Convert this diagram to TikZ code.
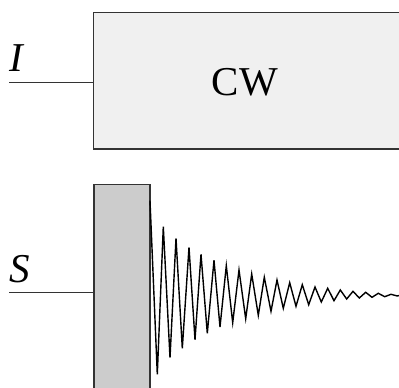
\documentclass[tikz,border=0pt]{standalone}
\usepackage{fontspec}
\setmainfont{Liberation Serif}
\begin{document}
\begin{tikzpicture}[x=1pt,y=-1pt,
  edge/.style={draw=black!80, line width=1.5pt},
  cwbox/.style={edge, fill=black!6, inner sep=0pt, outer sep=0pt, anchor=north west},
  blkbox/.style={edge, fill=black!20, inner sep=0pt, outer sep=0pt, anchor=north west},
  lbl/.style={inner sep=0pt, font=\fontsize{41}{48}\selectfont},
  wave/.style={draw=black, line width=1.4pt, line join=miter}]
\useasboundingbox (0,0) rectangle (399,388);
\clip (0,0) rectangle (399,388);
% top block
\node[cwbox, minimum width=320pt, minimum height=136.7pt] (cw) at (93.3,12.3) {};
\node[lbl] (cwtext) at (245,82.5) {CW};
\coordinate (iin) at (9.3,82.7);
\draw[edge] (iin) -- (iin -| cw.west);
\node[lbl, anchor=base west] (ilab) at (9,71) {\textit{I}};
% bottom block
\node[blkbox, minimum width=56pt, minimum height=220pt] (blk) at (94,184.7) {};
\coordinate (sin) at (9.3,292.7);
\draw[edge] (sin) -- (sin -| blk.west);
\node[lbl, anchor=base west] (slab) at (9,282) {\textit{S}};
% decaying oscillation
\coordinate (w0) at (blk.east |- 0,200.7);
\draw[wave] (w0)
 -- (157.3,374.3) -- (163.3,226.7) -- (170,357.7) -- (176,238.3)
 -- (182.3,348.3) -- (189,247.3) -- (195,339.7) -- (201,254.3)
 -- (207.3,333.3) -- (214,260.3) -- (220,327) -- (226.3,265.7)
 -- (232.7,322.7) -- (239,270) -- (245.7,318.7) -- (251.7,274)
 -- (258.3,315.3) -- (264.3,277.3) -- (271,311.3) -- (277,280)
 -- (283.3,308.3) -- (289.7,282.7) -- (296,306.3) -- (302.3,284.7)
 -- (308.7,304.7) -- (315,287) -- (321.3,302) -- (327.7,288.3)
 -- (334,300.7) -- (340.3,290) -- (346.7,299) -- (353,291.3)
 -- (359.3,298) -- (365.7,292.3) -- (372,297.3) -- (378.3,293.3)
 -- (384.7,296.7) -- (391,294.3) -- (397.3,296) -- (400,295.3);
\end{tikzpicture}
\end{document}
